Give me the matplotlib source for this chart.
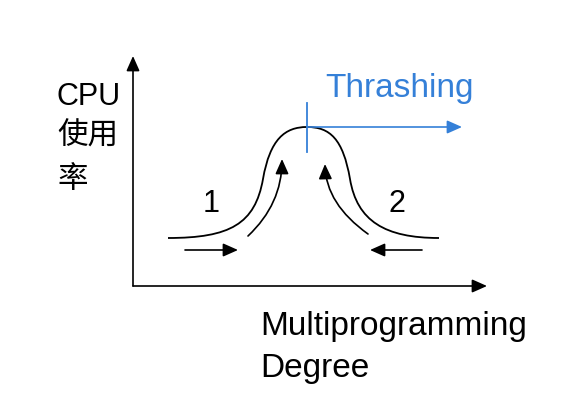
import matplotlib.pyplot as plt
from matplotlib.path import Path
from matplotlib.patches import PathPatch, FancyArrowPatch

plt.rcParams['font.family'] = ['Liberation Sans', 'Noto Sans CJK SC']

# diagram drawn in pixel space of the 570x402 picture
# bell curve as cubic bezier: start, (c1, c2, end) per segment
curve_x = [168, 230, 255, 263, 270, 285, 307, 330, 343, 350, 357, 385, 439]
curve_y = [239, 239, 225, 180, 140, 128, 128, 128, 140, 180, 222, 239, 239]

# curved arrows beside the curve (tail, control, tip)
left_up_x = [248, 282, 282]
left_up_y = [237, 205, 160]
right_up_x = [368, 326, 325]
right_up_y = [235, 205, 165]

# small horizontal arrows (tail, tip)
right_arrow = [(185, 251), (238, 251)]
left_arrow = [(422, 251), (370, 251)]

# axes (origin, y tip, x tip)
origin = (133, 287)
y_tip = (133, 57)
x_tip = (487, 287)

# thrashing marker
peak = (307, 128)
marker_y = [104, 153]
thrash_tip = (462, 128)

blue = '#3580d8'
head = '-|>,head_length=0.9,head_width=0.4'

fig = plt.figure(figsize=(5.7, 4.02), dpi=100)
ax = fig.add_axes([0, 0, 1, 1])
ax.set_xlim(0, 570)
ax.set_ylim(402, 0)
ax.axis('off')

def arrow(p0, p1, color='black'):
    ax.add_patch(FancyArrowPatch(p0, p1, arrowstyle=head, mutation_scale=10,
                                 color=color, lw=1.2, shrinkA=0, shrinkB=0))

arrow(origin, y_tip)
arrow(origin, x_tip)

verts = list(zip(curve_x, curve_y))
codes = [Path.MOVETO] + [Path.CURVE4] * (len(verts) - 1)
ax.add_patch(PathPatch(Path(verts, codes), fill=False, lw=1.3, color='black'))

for xs, ys in [(left_up_x, left_up_y), (right_up_x, right_up_y)]:
    p = Path(list(zip(xs, ys)), [Path.MOVETO, Path.CURVE3, Path.CURVE3])
    ax.add_patch(FancyArrowPatch(path=p, arrowstyle=head, mutation_scale=10,
                                 color='black', lw=1.2))

arrow(*right_arrow)
arrow(*left_arrow)

ax.plot([peak[0], peak[0]], marker_y, color=blue, lw=1.3)
arrow(peak, thrash_tip, color=blue)

ax.text(399, 97, 'Thrashing', color=blue, fontsize=24, ha='center', va='baseline')
ax.text(211, 212, '1', fontsize=22, ha='center', va='baseline')
ax.text(397, 212, '2', fontsize=22, ha='center', va='baseline')
ax.text(57, 105, 'CPU', fontsize=22, ha='left', va='baseline')
ax.text(57, 145, '使用', fontsize=22, ha='left', va='baseline')
ax.text(57, 188, '率', fontsize=22, ha='left', va='baseline')
ax.text(260, 335, 'Multiprogramming', fontsize=24, ha='left', va='baseline')
ax.text(260, 377, 'Degree', fontsize=24, ha='left', va='baseline')

fig.savefig('out.png', dpi=100)
